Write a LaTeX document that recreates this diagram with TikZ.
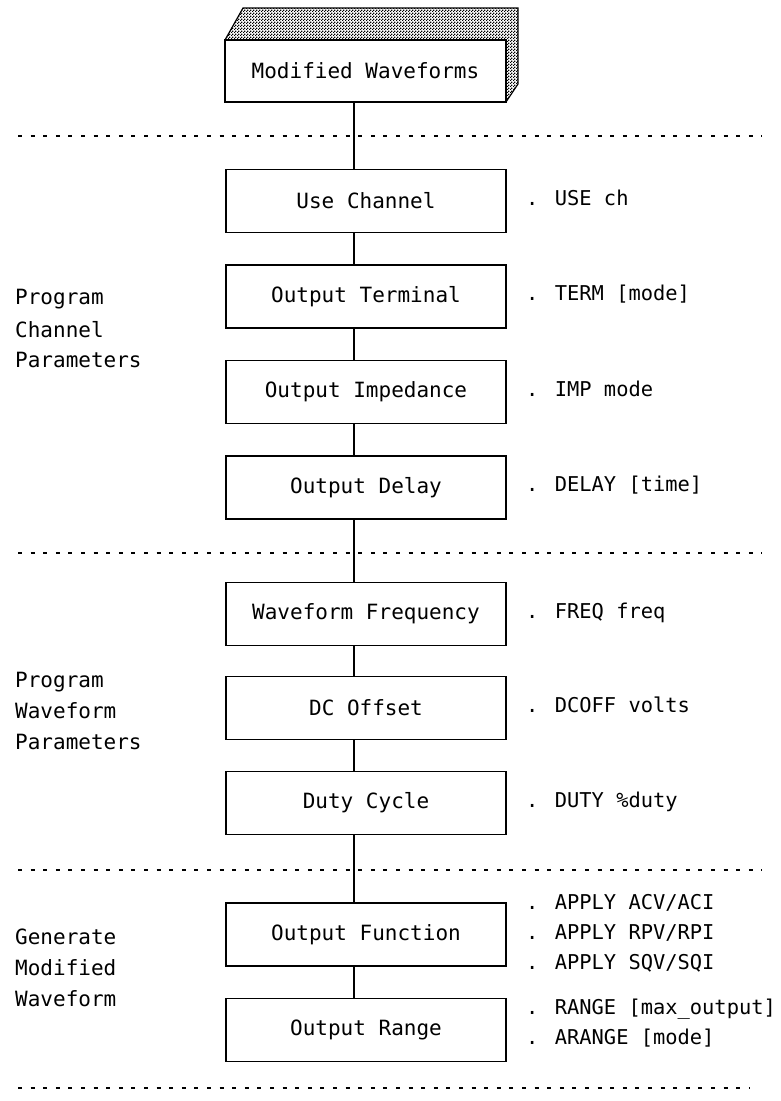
\documentclass[tikz,border=0pt]{standalone}
\usepackage{fontspec}
\newfontfamily\lgfont{DejaVu Sans Mono}
\usetikzlibrary{patterns}
\pgfdeclarepatternformonly{finechecker}{\pgfpointorigin}{\pgfqpoint{3pt}{3pt}}{\pgfqpoint{3pt}{3pt}}{%
  \pgfpathrectangle{\pgfpointorigin}{\pgfqpoint{1.5pt}{1.5pt}}%
  \pgfpathrectangle{\pgfqpoint{1.5pt}{1.5pt}}{\pgfqpoint{1.5pt}{1.5pt}}%
  \pgfusepath{fill}}
\begin{document}
\begin{tikzpicture}[x=1pt,y=-1pt,
  every node/.style={font=\lgfont\fontsize{21}{24}\selectfont, inner sep=0pt},
  stepbox/.style={draw, line width=1.3pt, minimum width=280pt, minimum height=63pt},
  cmd/.style={anchor=west, text height=11pt, text depth=3pt, font=\lgfont\fontsize{20.4}{24}\selectfont},
  grp/.style={anchor=west, text height=11pt, text depth=3pt},
  sep/.style={line width=1.6pt, dash pattern=on 4pt off 8.6pt},
  link/.style={line width=1.2pt}]
\useasboundingbox (0,0) rectangle (780,1101);
\coordinate (line) at (354,0);
% top box with shadow
\fill[pattern=finechecker] (225,40) -- (243,8) -- (518,8) -- (518,84) -- (506,102) -- (506,40) -- cycle;
\draw[line width=1.2pt] (225,40) -- (243,8) -- (518,8) -- (518,84) -- (506,102);
\node[stepbox, fill=white, minimum width=281pt, minimum height=62pt] (top) at (365.5,71) {Modified Waveforms};
% separators
\coordinate (s1l) at (18,136); \coordinate (s1r) at (762,136);
\coordinate (s2l) at (18,553); \coordinate (s2r) at (762,553);
\coordinate (s3l) at (18,870); \coordinate (s3r) at (762,870);
\coordinate (s4l) at (18,1088); \coordinate (s4r) at (750,1088);
\draw[sep] (s1l) -- (s1r);
\draw[sep] (s2l) -- (s2r);
\draw[sep] (s3l) -- (s3r);
\draw[sep] (s4l) -- (s4r);
% boxes
\node[stepbox] (b1) at (366,201) {Use Channel};
\node[stepbox] (b2) at (366,296.5) {Output Terminal};
\node[stepbox] (b3) at (366,392) {Output Impedance};
\node[stepbox] (b4) at (366,487.5) {Output Delay};
\node[stepbox] (b5) at (366,614) {Waveform Frequency};
\node[stepbox] (b6) at (366,708) {DC Offset};
\node[stepbox] (b7) at (366,803) {Duty Cycle};
\node[stepbox] (b8) at (366,934.5) {Output Function};
\node[stepbox] (b9) at (366,1030) {Output Range};
% connectors
\draw[link] (top.south -| line) -- (b1.north -| line);
\draw[link] (b1.south -| line) -- (b2.north -| line);
\draw[link] (b2.south -| line) -- (b3.north -| line);
\draw[link] (b3.south -| line) -- (b4.north -| line);
\draw[link] (b4.south -| line) -- (b5.north -| line);
\draw[link] (b5.south -| line) -- (b6.north -| line);
\draw[link] (b6.south -| line) -- (b7.north -| line);
\draw[link] (b7.south -| line) -- (b8.north -| line);
\draw[link] (b8.south -| line) -- (b9.north -| line);
% commands
\node[cmd] (c1) at (526,201) {. USE ch};
\node[cmd] (c2) at (526,296.5) {. TERM [mode]};
\node[cmd] (c3) at (526,392) {. IMP mode};
\node[cmd] (c4) at (526,487.5) {. DELAY [time]};
\node[cmd] (c5) at (526,614) {. FREQ freq};
\node[cmd] (c6) at (526,708) {. DCOFF volts};
\node[cmd] (c7) at (526,803) {. DUTY \%duty};
\node[cmd] (c8a) at (526,905) {. APPLY ACV/ACI};
\node[cmd] (c8b) at (526,935) {. APPLY RPV/RPI};
\node[cmd] (c8c) at (526,965) {. APPLY SQV/SQI};
\node[cmd] (c9a) at (526,1010) {. RANGE [max\_output]};
\node[cmd] (c9b) at (526,1040) {. ARANGE [mode]};
% group labels
\node[grp] (g1a) at (15,300) {Program};
\node[grp] (g1b) at (15,333) {Channel};
\node[grp] (g1c) at (15,363) {Parameters};
\node[grp] (g2a) at (15,683) {Program};
\node[grp] (g2b) at (15,714) {Waveform};
\node[grp] (g2c) at (15,745) {Parameters};
\node[grp] (g3a) at (15,940) {Generate};
\node[grp] (g3b) at (15,971) {Modified};
\node[grp] (g3c) at (15,1002) {Waveform};
\end{tikzpicture}
\end{document}
